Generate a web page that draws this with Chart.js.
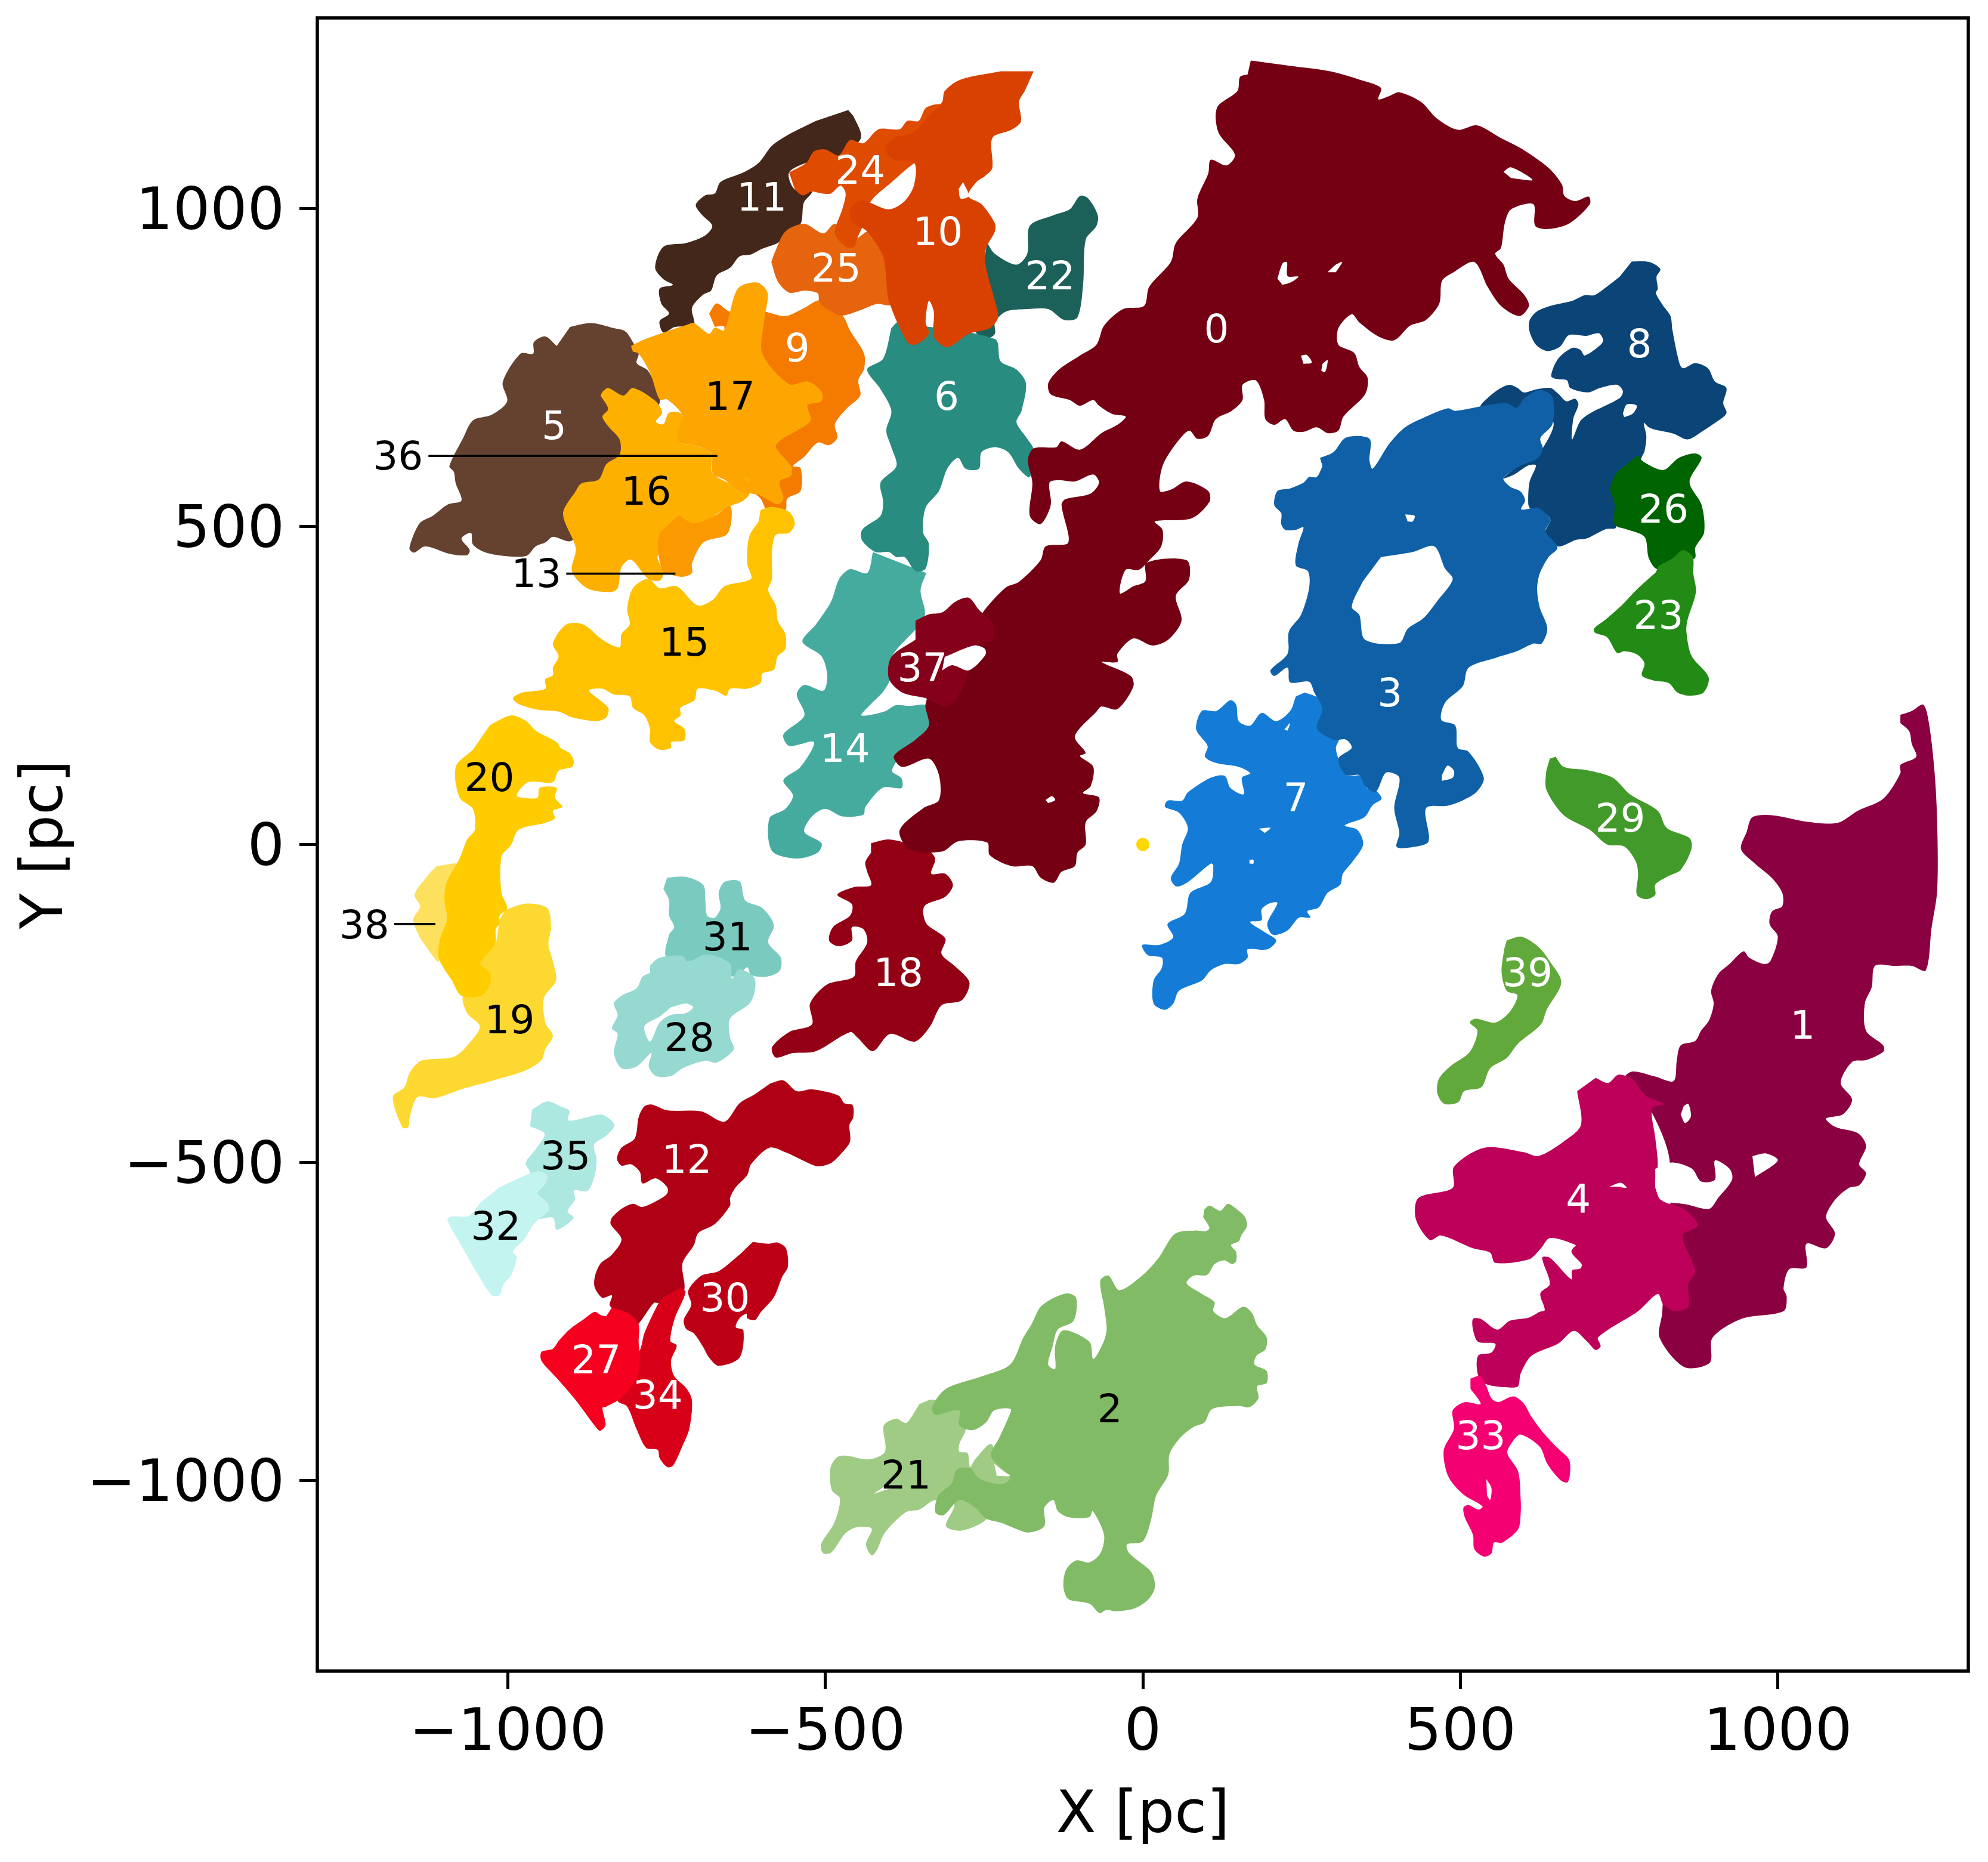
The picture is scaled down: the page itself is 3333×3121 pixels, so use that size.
<!DOCTYPE html>
<html>
<head>
<meta charset="utf-8">
<title>Clouds</title>
<script src="https://cdn.jsdelivr.net/npm/chart.js@4"></script>
<style>
  html, body { margin: 0; padding: 0; background: #fff; }
  canvas { display: block; }
</style>
</head>
<body>
<canvas id="myChart" width="3333" height="3121"></canvas>
<script>
// cloud outlines, [x, y] in pc
const cloud0 = [[170,1233],[237,1224],[295,1216],[341,1203],[375,1190],[371,1172],[388,1177],[404,1183],[438,1168],[463,1142],[496,1124],[526,1131],[564,1111],[597,1094],[639,1064],[660,1038],[664,1020],[681,1012],[702,1019],[704,1007],[672,977],[639,968],[618,973],[615,1007],[580,999],[570,977],[564,938],[555,929],[568,912],[576,890],[601,864],[608,847],[593,831],[564,847],[543,877],[522,916],[488,899],[471,886],[467,851],[446,825],[421,816],[396,793],[371,799],[341,821],[329,834],[308,812],[308,786],[333,773],[341,751],[354,734],[350,708],[316,673],[308,651],[291,647],[274,656],[253,649],[237,651],[224,669],[207,660],[193,669],[191,699],[178,730],[157,723],[157,699],[140,682],[115,669],[103,643],[86,638],[73,651],[52,630],[31,595],[27,556],[44,558],[69,571],[103,556],[105,539],[77,513],[19,508],[31,495],[29,469],[10,447],[-6,432],[-27,432],[-36,395],[-15,406],[4,414],[6,443],[69,447],[73,417],[52,391],[61,352],[40,322],[15,313],[-15,324],[-40,300],[-40,287],[-65,287],[-19,265],[-15,248],[-40,213],[-65,217],[-73,209],[-107,170],[-90,144],[-99,139],[-78,122],[-82,92],[-94,81],[-69,74],[-73,52],[-90,35],[-90,0],[-103,-13],[-107,-34],[-128,-43],[-140,-60],[-161,-52],[-174,-34],[-207,-34],[-241,-17],[-245,3],[-291,5],[-316,-11],[-367,-8],[-383,22],[-346,57],[-321,70],[-321,109],[-337,135],[-379,122],[-392,139],[-358,165],[-337,187],[-342,222],[-316,274],[-249,369],[-216,404],[-195,413],[-161,447],[-153,469],[-119,473],[-117,486],[-128,534],[-122,543],[-82,552],[-69,569],[-78,582],[-107,571],[-132,573],[-147,569],[-145,534],[-161,504],[-178,517],[-174,569],[-181,604],[-172,623],[-136,625],[-128,634],[-99,621],[-65,647],[-40,660],[-27,673],[-48,677],[-69,690],[-78,699],[-99,690],[-115,699],[-145,708],[-149,725],[-132,747],[-99,769],[-73,786],[-61,816],[-31,842],[2,847],[10,877],[44,916],[52,946],[86,986],[86,1016],[103,1055],[107,1077],[132,1068],[145,1085],[119,1120],[117,1159],[149,1185],[153,1207],[165,1211]];
const cloud1 = [[1193,204],[1211,210],[1229,220],[1238,191],[1247,112],[1251,33],[1251,-72],[1242,-132],[1233,-198],[1211,-191],[1184,-191],[1153,-191],[1148,-224],[1137,-250],[1139,-293],[1166,-316],[1166,-326],[1139,-339],[1117,-342],[1099,-375],[1117,-401],[1103,-424],[1076,-431],[1090,-444],[1126,-454],[1139,-474],[1128,-503],[1139,-517],[1128,-536],[1112,-540],[1090,-559],[1076,-586],[1090,-612],[1076,-635],[1045,-628],[1045,-665],[1018,-668],[1009,-698],[1014,-711],[1009,-734],[943,-746],[897,-776],[893,-815],[853,-822],[814,-776],[818,-736],[830,-500],[790,-400],[758,-369],[771,-357],[807,-365],[836,-372],[841,-339],[847,-316],[870,-309],[879,-293],[892,-276],[899,-250],[895,-230],[906,-204],[924,-188],[946,-168],[955,-178],[978,-188],[988,-184],[1000,-145],[987,-125],[991,-105],[1007,-97],[1007,-76],[991,-53],[964,-30],[942,-7],[951,20],[960,43],[991,46],[1045,36],[1094,34],[1126,53],[1166,72],[1193,112],[1193,125],[1218,138],[1211,158],[1207,178],[1193,191]];
const cloud2 = [[97,-574],[105,-568],[122,-576],[134,-565],[151,-576],[161,-586],[164,-600],[155,-615],[151,-624],[139,-630],[147,-641],[147,-655],[141,-660],[128,-654],[113,-660],[101,-677],[80,-678],[69,-690],[92,-706],[113,-720],[111,-734],[130,-745],[158,-727],[172,-737],[180,-756],[195,-775],[193,-794],[179,-804],[176,-818],[195,-828],[195,-847],[180,-852],[182,-871],[168,-885],[151,-883],[109,-888],[97,-909],[80,-916],[59,-933],[42,-959],[40,-991],[21,-1024],[13,-1062],[0,-1096],[-25,-1101],[-21,-1115],[13,-1144],[19,-1168],[9,-1187],[-12,-1201],[-42,-1206],[-58,-1204],[-68,-1209],[-84,-1194],[-117,-1187],[-125,-1168],[-121,-1141],[-105,-1126],[-84,-1129],[-67,-1115],[-61,-1086],[-79,-1048],[-84,-1058],[-117,-1058],[-134,-1048],[-141,-1031],[-155,-1043],[-155,-1072],[-180,-1082],[-205,-1074],[-222,-1067],[-247,-1060],[-264,-1043],[-289,-1031],[-314,-1055],[-327,-1050],[-322,-1024],[-301,-1005],[-293,-983],[-272,-981],[-260,-995],[-243,-1003],[-218,-1005],[-209,-995],[-239,-962],[-226,-933],[-213,-904],[-208,-888],[-234,-890],[-247,-909],[-268,-921],[-289,-914],[-289,-890],[-327,-897],[-332,-885],[-310,-856],[-255,-837],[-209,-818],[-188,-775],[-176,-756],[-159,-725],[-121,-706],[-105,-713],[-109,-749],[-134,-763],[-142,-789],[-149,-818],[-138,-825],[-138,-789],[-125,-764],[-84,-782],[-78,-809],[-63,-785],[-57,-763],[-61,-727],[-67,-686],[-54,-678],[-37,-701],[0,-677],[25,-650],[51,-612],[84,-607],[99,-608],[105,-603],[95,-586]];
const cloud3 = [[279,608],[300,617],[320,640],[357,638],[357,604],[362,591],[388,630],[413,656],[446,673],[480,686],[492,682],[538,690],[548,692],[573,694],[589,687],[600,701],[625,715],[645,704],[645,661],[626,639],[630,622],[620,606],[595,596],[568,576],[578,563],[595,555],[602,541],[596,527],[623,529],[642,510],[634,493],[653,467],[639,452],[625,426],[621,402],[625,373],[637,340],[628,316],[615,316],[589,304],[557,294],[513,278],[504,249],[476,223],[470,196],[492,187],[496,152],[513,146],[537,105],[526,83],[505,70],[480,61],[446,57],[450,5],[425,-4],[400,-4],[404,18],[396,57],[404,105],[383,113],[367,83],[350,92],[341,109],[320,109],[308,135],[329,152],[320,165],[300,165],[274,183],[283,213],[270,239],[262,256],[232,255],[228,278],[207,265],[201,274],[228,300],[230,335],[249,361],[262,404],[260,430],[241,439],[245,473],[253,499],[241,495],[224,495],[218,504],[218,521],[207,534],[212,556],[232,560],[253,569],[262,578],[274,578],[283,595]];
const cloud4 = [[713,-367],[733,-375],[749,-362],[771,-369],[792,-395],[820,-408],[802,-415],[807,-461],[811,-503],[807,-533],[816,-559],[852,-573],[874,-599],[850,-615],[870,-671],[859,-691],[859,-727],[838,-734],[820,-724],[811,-707],[780,-734],[717,-775],[721,-789],[713,-795],[700,-782],[679,-765],[654,-785],[612,-804],[595,-832],[591,-852],[578,-854],[541,-849],[528,-835],[528,-804],[549,-799],[555,-785],[528,-782],[520,-763],[520,-746],[532,-746],[558,-763],[578,-749],[608,-744],[625,-735],[633,-732],[626,-706],[641,-691],[629,-650],[641,-650],[675,-684],[676,-670],[689,-667],[691,-660],[675,-641],[683,-631],[696,-641],[677,-628],[641,-619],[627,-635],[609,-652],[555,-658],[547,-642],[520,-635],[470,-615],[452,-622],[430,-589],[434,-556],[488,-540],[490,-507],[538,-477],[600,-484],[623,-490],[663,-467],[690,-441],[684,-388]];
const cloud5 = [[-902,814],[-869,820],[-833,812],[-815,807],[-803,790],[-794,772],[-797,757],[-779,745],[-761,706],[-761,694],[-815,574],[-899,478],[-929,484],[-941,475],[-956,469],[-971,454],[-1007,454],[-1037,460],[-1055,472],[-1058,490],[-1073,481],[-1060,463],[-1064,455],[-1091,457],[-1130,469],[-1148,459],[-1155,466],[-1139,505],[-1118,517],[-1094,535],[-1073,541],[-1082,568],[-1085,586],[-1092,595],[-1070,640],[-1055,667],[-1025,676],[-1001,697],[-1008,727],[-980,772],[-960,772],[-959,790],[-941,799],[-923,784]];
const cloud6 = [[-388,821],[-233,795],[-224,760],[-199,747],[-184,725],[-191,682],[-199,664],[-182,638],[-172,621],[-178,578],[-195,591],[-212,617],[-233,625],[-254,617],[-258,591],[-279,591],[-291,608],[-308,591],[-321,556],[-342,530],[-346,491],[-337,473],[-342,434],[-358,430],[-375,452],[-388,452],[-400,460],[-421,460],[-442,478],[-442,495],[-413,517],[-409,539],[-413,569],[-388,595],[-396,625],[-404,651],[-396,682],[-413,716],[-434,747],[-409,764],[-396,812]];
const cloud7 = [[255,239],[277,230],[291,207],[277,191],[286,174],[309,168],[304,151],[313,122],[322,108],[344,108],[353,89],[367,85],[376,72],[362,62],[349,43],[318,30],[338,23],[347,0],[331,-26],[315,-46],[311,-63],[291,-76],[277,-99],[259,-105],[264,-115],[246,-115],[228,-135],[205,-142],[196,-125],[212,-92],[201,-92],[187,-102],[187,-119],[169,-122],[192,-138],[210,-151],[196,-165],[165,-165],[165,-178],[151,-188],[129,-188],[107,-198],[93,-214],[57,-230],[48,-250],[35,-260],[17,-250],[17,-214],[30,-194],[30,-178],[8,-174],[-1,-158],[26,-158],[48,-146],[39,-125],[66,-109],[75,-76],[107,-59],[111,-33],[107,-30],[71,-59],[53,-66],[44,-53],[57,-30],[62,0],[71,26],[57,50],[35,59],[39,69],[62,69],[71,82],[107,105],[129,108],[138,89],[159,79],[156,105],[169,112],[151,122],[116,128],[98,138],[102,155],[84,181],[93,210],[116,210],[138,227],[147,220],[151,194],[169,187],[187,207],[210,194],[232,210],[241,233]];
const cloud8 = [[770,917],[798,916],[815,905],[809,893],[811,874],[808,867],[819,848],[831,831],[834,809],[845,757],[851,749],[870,757],[890,749],[901,728],[919,718],[914,694],[919,678],[898,661],[880,649],[858,637],[836,646],[808,652],[797,656],[789,663],[793,642],[790,618],[786,610],[742,512],[745,498],[729,496],[698,481],[682,479],[654,469],[634,491],[642,510],[632,522],[610,529],[607,536],[609,570],[619,596],[607,596],[585,582],[568,576],[595,599],[626,618],[645,666],[548,666],[531,687],[545,704],[564,718],[578,723],[590,718],[600,711],[620,716],[642,718],[654,709],[667,697],[681,701],[686,692],[678,670],[676,637],[689,666],[704,678],[751,702],[756,713],[747,723],[720,718],[701,711],[673,718],[668,730],[651,732],[643,737],[654,764],[676,781],[689,778],[696,769],[720,785],[725,793],[718,804],[698,800],[671,801],[657,783],[637,776],[620,785],[609,807],[609,824],[620,838],[642,847],[676,855],[696,864],[711,864],[729,876],[751,893]];
const cloud9 = [[-683,835],[-671,851],[-650,838],[-596,838],[-563,831],[-533,844],[-509,856],[-491,838],[-473,832],[-461,808],[-439,772],[-439,748],[-448,730],[-445,706],[-467,685],[-485,661],[-481,640],[-494,628],[-512,632],[-533,610],[-551,595],[-539,592],[-539,556],[-560,544],[-563,526],[-590,523],[-602,544],[-635,574],[-665,694],[-659,814],[-674,814]];
const cloud10 = [[-172,1216],[-186,1185],[-195,1168],[-192,1137],[-207,1124],[-237,1111],[-237,1064],[-249,1051],[-262,1042],[-275,1020],[-254,1007],[-233,977],[-233,964],[-245,942],[-249,925],[-245,899],[-233,855],[-228,829],[-241,812],[-274,803],[-308,782],[-329,799],[-329,838],[-337,855],[-342,821],[-337,803],[-358,786],[-371,790],[-400,855],[-404,890],[-409,925],[-434,964],[-459,981],[-459,1003],[-442,1013],[-400,999],[-375,1012],[-360,1038],[-360,1072],[-392,1077],[-406,1094],[-392,1111],[-362,1120],[-337,1146],[-316,1168],[-312,1185],[-287,1203],[-224,1216]];
const cloud11 = [[-464,1155],[-455,1144],[-444,1111],[-476,1084],[-521,1075],[-557,1057],[-548,1030],[-521,1027],[-534,1009],[-539,976],[-563,958],[-575,946],[-599,937],[-617,928],[-635,925],[-650,907],[-671,895],[-680,871],[-692,865],[-710,844],[-707,817],[-737,814],[-755,805],[-761,823],[-746,835],[-758,850],[-761,874],[-740,880],[-755,889],[-768,907],[-755,940],[-719,946],[-689,958],[-678,973],[-695,991],[-704,1006],[-689,1021],[-674,1024],[-665,1042],[-629,1057],[-605,1072],[-584,1099],[-557,1117],[-515,1138]];
const cloud12 = [[-587,-376],[-566,-371],[-545,-388],[-521,-385],[-479,-395],[-470,-407],[-457,-410],[-456,-429],[-462,-441],[-461,-467],[-473,-484],[-491,-501],[-512,-506],[-533,-498],[-563,-484],[-588,-477],[-617,-503],[-623,-520],[-641,-539],[-650,-556],[-650,-568],[-674,-597],[-700,-611],[-707,-630],[-725,-659],[-722,-700],[-737,-707],[-761,-721],[-770,-721],[-791,-750],[-797,-755],[-839,-726],[-836,-709],[-851,-713],[-863,-697],[-863,-680],[-854,-659],[-836,-645],[-821,-621],[-838,-597],[-836,-587],[-821,-573],[-803,-565],[-788,-570],[-761,-558],[-749,-549],[-749,-539],[-767,-525],[-788,-533],[-792,-515],[-806,-503],[-821,-505],[-828,-494],[-821,-477],[-800,-462],[-794,-429],[-785,-412],[-773,-409],[-749,-418],[-695,-420],[-659,-436],[-635,-407],[-611,-393]];
const cloud13 = [[-731,518],[-707,505],[-674,517],[-650,532],[-648,508],[-656,487],[-692,475],[-710,442],[-710,427],[-725,421],[-743,424],[-755,427],[-764,466],[-761,490]];
const cloud14 = [[-425,460],[-434,427],[-461,433],[-478,418],[-491,382],[-515,346],[-536,319],[-506,296],[-497,266],[-503,242],[-533,251],[-545,236],[-533,203],[-566,173],[-557,155],[-518,161],[-539,122],[-566,101],[-551,77],[-563,56],[-588,41],[-584,-10],[-545,-22],[-512,-13],[-506,2],[-533,20],[-521,44],[-500,56],[-473,44],[-440,47],[-437,59],[-410,89],[-380,89],[-380,104],[-395,116],[-371,152],[-329,188],[-338,218],[-368,218],[-389,219],[-407,209],[-443,203],[-428,221],[-410,239],[-398,260],[-395,296],[-344,358],[-350,400],[-341,427]];
const cloud15 = [[-602,526],[-584,531],[-557,523],[-548,505],[-557,490],[-578,487],[-584,460],[-584,418],[-590,400],[-578,376],[-575,352],[-563,331],[-563,307],[-575,296],[-581,275],[-599,269],[-602,254],[-623,245],[-650,245],[-656,234],[-674,242],[-701,245],[-706,227],[-728,215],[-728,203],[-738,194],[-722,182],[-722,164],[-743,161],[-743,152],[-761,149],[-776,161],[-776,182],[-785,203],[-803,215],[-808,233],[-833,236],[-851,245],[-872,242],[-842,215],[-845,200],[-860,194],[-899,200],[-920,209],[-953,212],[-983,221],[-992,230],[-977,239],[-941,245],[-941,260],[-929,266],[-929,278],[-920,296],[-929,316],[-908,346],[-881,346],[-851,322],[-824,310],[-821,331],[-808,346],[-812,370],[-803,403],[-779,418],[-761,403],[-734,406],[-701,376],[-677,385],[-659,406],[-617,418],[-623,442],[-620,484],[-605,508]];
const cloud16 = [[-851,712],[-842,718],[-818,706],[-803,718],[-767,697],[-757,679],[-767,665],[-755,661],[-746,679],[-725,676],[-731,634],[-707,628],[-680,616],[-677,583],[-620,553],[-629,541],[-650,532],[-674,517],[-701,490],[-740,470],[-764,454],[-755,427],[-761,415],[-779,418],[-806,448],[-821,436],[-827,403],[-839,397],[-875,403],[-899,430],[-893,466],[-913,520],[-893,556],[-884,568],[-857,574],[-845,598],[-824,613],[-824,637],[-842,658],[-851,673],[-842,685],[-854,706]];
const cloud17 = [[-806,784],[-788,793],[-755,805],[-719,817],[-707,820],[-683,803],[-674,813],[-659,809],[-638,874],[-608,884],[-591,868],[-596,826],[-599,772],[-557,724],[-527,728],[-506,712],[-506,697],[-528,691],[-523,667],[-548,649],[-569,637],[-578,625],[-554,595],[-554,580],[-572,571],[-566,544],[-575,535],[-599,547],[-605,550],[-635,556],[-659,574],[-677,583],[-680,616],[-707,628],[-732,634],[-728,664],[-725,676],[-749,700],[-761,700],[-776,742],[-794,772],[-803,775]];
const cloud18 = [[-428,2],[-401,8],[-371,2],[-341,-7],[-327,-22],[-333,-46],[-311,-46],[-299,-64],[-311,-82],[-344,-97],[-341,-124],[-311,-148],[-317,-172],[-294,-193],[-273,-217],[-285,-245],[-317,-253],[-335,-286],[-359,-310],[-398,-298],[-425,-325],[-449,-304],[-461,-295],[-515,-325],[-551,-328],[-578,-335],[-584,-319],[-557,-295],[-521,-283],[-524,-250],[-497,-220],[-455,-208],[-452,-184],[-434,-154],[-440,-133],[-458,-130],[-458,-151],[-479,-160],[-494,-151],[-488,-130],[-461,-112],[-458,-94],[-481,-79],[-455,-67],[-428,-64],[-434,-43],[-437,-28],[-428,-13]];
const cloud19 = [[-1004,-103],[-971,-93],[-938,-100],[-932,-130],[-936,-157],[-929,-184],[-924,-214],[-943,-241],[-941,-280],[-929,-301],[-941,-322],[-947,-339],[-971,-355],[-1019,-370],[-1073,-385],[-1115,-399],[-1142,-397],[-1154,-427],[-1157,-445],[-1166,-445],[-1181,-397],[-1163,-382],[-1154,-358],[-1136,-340],[-1085,-334],[-1061,-313],[-1044,-286],[-1064,-265],[-1070,-238],[-1028,-220],[-1043,-187],[-1020,-157],[-1016,-139],[-1013,-118]];
const cloud20 = [[-1028,188],[-995,203],[-971,194],[-956,179],[-923,161],[-917,152],[-902,143],[-896,131],[-899,122],[-920,116],[-929,98],[-968,98],[-986,77],[-971,73],[-953,74],[-950,89],[-923,89],[-926,74],[-914,59],[-929,53],[-926,41],[-941,34],[-983,23],[-995,-1],[-1010,-19],[-1010,-76],[-1001,-100],[-1013,-112],[-1013,-124],[-1019,-133],[-1020,-157],[-1043,-187],[-1028,-202],[-1028,-220],[-1043,-238],[-1073,-238],[-1088,-214],[-1109,-178],[-1106,-145],[-1096,-118],[-1100,-88],[-1097,-61],[-1076,-22],[-1064,8],[-1052,23],[-1055,56],[-1076,74],[-1082,122],[-1055,149]];
const cloud21 = [[-352,-880],[-331,-873],[-289,-885],[-279,-919],[-289,-943],[-289,-955],[-276,-957],[-272,-979],[-264,-967],[-239,-943],[-226,-976],[-205,-995],[-209,-1010],[-247,-1062],[-285,-1079],[-310,-1072],[-297,-1038],[-327,-1031],[-352,-1046],[-373,-1050],[-406,-1082],[-419,-1110],[-427,-1118],[-436,-1101],[-427,-1076],[-452,-1074],[-469,-1084],[-490,-1113],[-503,-1115],[-507,-1101],[-486,-1067],[-477,-1029],[-490,-1015],[-492,-981],[-482,-964],[-469,-961],[-431,-967],[-406,-955],[-408,-914],[-389,-903],[-373,-910],[-364,-900]];
const cloud22 = [[-245,946],[-233,929],[-199,912],[-182,929],[-178,973],[-140,990],[-115,999],[-99,1020],[-86,1016],[-71,990],[-73,973],[-90,951],[-94,881],[-103,829],[-124,825],[-149,842],[-182,842],[-216,838],[-233,821],[-233,803],[-249,795],[-266,812],[-249,925]];
const cloud23 = [[812,438],[834,450],[851,463],[866,452],[867,426],[871,397],[858,354],[856,335],[864,297],[891,263],[883,239],[861,234],[842,239],[828,254],[804,258],[786,266],[790,285],[778,299],[758,304],[747,301],[731,326],[712,333],[711,340],[729,354],[754,376],[779,402],[808,428]];
const cloud24 = [[-557,1057],[-530,1072],[-518,1090],[-500,1093],[-479,1084],[-461,1108],[-440,1103],[-416,1125],[-383,1125],[-371,1138],[-353,1138],[-341,1159],[-314,1162],[-299,1102],[-359,1072],[-395,1042],[-428,1012],[-437,982],[-449,955],[-455,940],[-467,940],[-485,961],[-473,1000],[-468,1024],[-476,1036],[-491,1024],[-506,1024],[-521,1027],[-536,1021],[-548,1030]];
const cloud25 = [[-581,928],[-563,964],[-533,976],[-503,961],[-485,976],[-455,952],[-431,964],[-404,922],[-395,850],[-419,850],[-443,841],[-473,832],[-491,838],[-509,853],[-512,867],[-533,871],[-557,868],[-575,886],[-585,916]];
const cloud26 = [[779,612],[790,601],[820,589],[844,608],[870,615],[880,608],[861,570],[880,534],[884,491],[870,467],[869,450],[811,433],[797,450],[790,484],[761,496],[743,503],[743,536],[736,560],[745,584]];
const cloud27 = [[-836,-728],[-809,-738],[-794,-755],[-794,-783],[-792,-807],[-797,-839],[-821,-870],[-845,-884],[-851,-886],[-846,-913],[-854,-922],[-860,-918],[-893,-874],[-923,-839],[-947,-812],[-947,-798],[-929,-793],[-920,-781],[-902,-762],[-881,-747],[-863,-735],[-854,-740],[-845,-742]];
const cloud28 = [[-776,-190],[-761,-178],[-725,-175],[-716,-184],[-686,-173],[-650,-187],[-647,-211],[-635,-196],[-611,-211],[-617,-247],[-650,-274],[-650,-304],[-644,-322],[-671,-343],[-689,-340],[-725,-352],[-743,-364],[-767,-364],[-778,-349],[-774,-328],[-797,-349],[-821,-352],[-833,-328],[-827,-298],[-836,-289],[-827,-268],[-833,-250],[-821,-238],[-797,-226],[-788,-208],[-776,-202]];
const cloud29 = [[650,138],[663,122],[699,117],[740,105],[767,79],[811,53],[825,26],[861,10],[864,-7],[847,-40],[829,-49],[807,-63],[807,-79],[793,-86],[778,-79],[780,-46],[776,-26],[758,-3],[731,0],[704,23],[663,46],[636,85],[635,112],[641,135]];
const cloud30 = [[-614,-625],[-590,-628],[-575,-626],[-562,-635],[-559,-664],[-568,-680],[-581,-712],[-602,-736],[-611,-748],[-623,-745],[-624,-738],[-635,-745],[-641,-759],[-629,-764],[-635,-807],[-668,-820],[-683,-807],[-692,-791],[-707,-769],[-719,-762],[-723,-748],[-711,-724],[-716,-702],[-695,-678],[-668,-671],[-635,-645]];
const cloud31 = [[-749,-52],[-719,-51],[-692,-64],[-689,-88],[-686,-112],[-674,-115],[-665,-100],[-668,-76],[-659,-59],[-635,-58],[-626,-88],[-599,-100],[-581,-127],[-590,-154],[-570,-178],[-572,-199],[-593,-208],[-617,-205],[-623,-193],[-641,-208],[-749,-178],[-746,-142],[-738,-130],[-746,-112],[-746,-88],[-755,-70]];
const cloud32 = [[-1013,-539],[-983,-525],[-953,-514],[-938,-520],[-941,-534],[-953,-549],[-938,-563],[-935,-575],[-959,-597],[-974,-621],[-992,-640],[-986,-649],[-995,-678],[-1007,-692],[-1013,-709],[-1025,-709],[-1046,-678],[-1079,-621],[-1088,-606],[-1095,-589],[-1088,-585],[-1061,-584],[-1043,-563]];
const cloud33 = [[516,-840],[532,-836],[541,-852],[549,-871],[560,-877],[583,-868],[599,-878],[612,-900],[633,-928],[654,-950],[671,-967],[673,-986],[669,-1003],[658,-1000],[637,-974],[625,-947],[595,-928],[583,-938],[574,-957],[591,-986],[595,-1029],[595,-1053],[591,-1077],[566,-1098],[553,-1098],[549,-1115],[537,-1120],[522,-1108],[520,-1086],[507,-1058],[505,-1043],[513,-1039],[528,-1046],[535,-1041],[507,-1024],[488,-1005],[478,-986],[474,-952],[490,-919],[488,-890],[507,-877],[532,-880],[516,-856]];
const cloud34 = [[-728,-697],[-720,-704],[-737,-745],[-744,-781],[-734,-788],[-743,-812],[-738,-836],[-719,-855],[-710,-874],[-714,-918],[-725,-946],[-740,-977],[-749,-979],[-761,-965],[-764,-952],[-782,-949],[-797,-920],[-812,-884],[-827,-874],[-791,-793],[-785,-769],[-764,-724],[-755,-712]];
const cloud35 = [[-962,-417],[-938,-404],[-917,-412],[-903,-419],[-905,-434],[-875,-429],[-851,-425],[-832,-441],[-845,-458],[-864,-472],[-860,-498],[-866,-530],[-875,-545],[-896,-544],[-894,-558],[-906,-577],[-896,-587],[-923,-606],[-929,-587],[-953,-587],[-965,-515],[-972,-501],[-956,-479],[-942,-455],[-965,-443]];
const cloud36 = [[-629,579],[-618,575],[-619,570],[-628,575]];
const cloud37 = [[-358,352],[-337,362],[-316,365],[-295,382],[-274,388],[-258,369],[-237,348],[-237,322],[-262,313],[-283,248],[-308,217],[-342,230],[-379,239],[-400,261],[-396,295],[-358,322]];
const cloud38 = [[-1112,-34],[-1079,-31],[-1097,-61],[-1100,-88],[-1096,-118],[-1106,-145],[-1109,-184],[-1127,-163],[-1139,-145],[-1149,-118],[-1138,-97],[-1147,-79],[-1124,-46]];
const cloud39 = [[573,-151],[596,-145],[623,-161],[641,-184],[659,-217],[636,-260],[627,-283],[591,-313],[573,-336],[547,-352],[533,-382],[506,-388],[497,-405],[475,-408],[464,-392],[466,-369],[484,-349],[515,-326],[527,-293],[515,-280],[524,-274],[555,-280],[578,-263],[590,-237],[573,-230],[565,-201],[569,-165]];

const clouds = [cloud0, cloud1, cloud2, cloud3, cloud4, cloud5, cloud6, cloud7, cloud8, cloud9, cloud10, cloud11, cloud12, cloud13, cloud14, cloud15, cloud16, cloud17, cloud18, cloud19, cloud20, cloud21, cloud22, cloud23, cloud24, cloud25, cloud26, cloud27, cloud28, cloud29, cloud30, cloud31, cloud32, cloud33, cloud34, cloud35, cloud36, cloud37, cloud38, cloud39];
const cloudColors = ['#750014','#8B0041','#81BB66','#0F60A6','#BD0059','#654130','#298C80','#147CD7','#0B4477','#F57A00','#D94100','#43271A','#B00016','#FA9900','#46AB9F','#FFC200','#FDB000','#FDA500','#930015','#FDD830','#FFCC00','#9FCB85','#1C6159','#228B15','#DF4C00','#E5640D','#006400','#F5001E','#95D9D0','#429A2A','#BD0016','#7BCABF','#C4F4EF','#F50073','#D80018','#ACE7E0','#FDB000','#85001A','#FDE05E','#62A93B'];
// bottom to top
const drawOrder = [5, 11, 9, 15, 38, 19, 20, 31, 28, 35, 32, 16, 13, 17, 36, 25, 24, 22, 14, 6, 10, 18, 12, 30, 34, 27, 21, 2, 8, 7, 3, 29, 39, 26, 23, 0, 37, 1, 4, 33];

// white gaps inside the clouds
const gap0a = [[212,890],[220,914],[227,916],[228,894],[245,893],[233,884],[220,880]];
const gap0b = [[291,900],[304,912],[314,916],[304,900]];
const gap0c = [[249,769],[258,770],[266,758],[253,756]];
const gap0d = [[283,756],[291,762],[287,743],[281,745]];
const gap0e = [[-153,70],[-143,76],[-138,70],[-149,65]];
const gap0f = [[568,1058],[580,1065],[614,1045],[580,1048]];
const gap1a = [[852,-411],[859,-408],[863,-428],[854,-438],[847,-425]];
const gap1b = [[807,-510],[834,-500],[865,-510],[879,-530],[901,-527],[901,-497],[924,-510],[928,-527],[906,-556],[892,-573],[856,-566],[816,-559],[807,-540]];
const gap1c = [[960,-490],[982,-486],[1000,-497],[964,-523]];
const gap3a = [[375,452],[425,460],[459,469],[476,434],[488,417],[463,382],[442,356],[417,339],[404,317],[350,322],[341,361],[329,374],[346,413]];
const gap3b = [[413,519],[428,517],[425,508],[417,508]];
const gap3c = [[471,109],[480,124],[490,116],[488,105],[471,100]];
const gap4a = [[735,-538],[753,-532],[762,-540],[749,-538]];
const gap7a = [[223,181],[232,191],[228,179]];
const gap7b = [[183,25],[201,26],[192,18]];
const gap7c = [[168,-24],[174,-24],[174,-30],[168,-30]];
const gap8a = [[756,678],[762,692],[778,690],[772,678],[758,672]];
const gap10a = [[-283,1042],[-274,1020],[-287,1016],[-290,1031]];
const gap21a = [[-425,-1022],[-406,-1010],[-389,-1011],[-406,-1015]];
const gap21b = [[-234,-974],[-219,-986],[-209,-993],[-230,-993]];
const gap28a = [[-743,-256],[-719,-250],[-708,-256],[-719,-265],[-743,-268],[-761,-280],[-776,-310],[-785,-286],[-761,-271]];
const gap33a = [[541,-998],[549,-1012],[547,-1031],[542,-1024]];
const gap37a = [[-312,295],[-266,313],[-249,308],[-248,298],[-274,274],[-300,282],[-316,274]];
const gaps = [gap0a, gap0b, gap0c, gap0d, gap0e, gap0f, gap1a, gap1b, gap1c, gap3a, gap3b, gap3c, gap4a, gap7a, gap7b, gap7c, gap8a, gap10a, gap21a, gap21b, gap28a, gap33a, gap37a];

// cloud numbers, same order as clouds
const labelX = [116,1039,-52,389,686,-927,-309,241,782,-544,-323,-600,-718,-955,-469,-722,-782,-650,-385,-997,-1029,-373,-146,812,-445,-483,820,-861,-714,752,-658,-654,-1019,532,-764,-909,-1173,-347,-1226,606];
const labelY = [806,-289,-893,233,-562,654,700,68,782,776,959,1013,-500,421,146,313,550,700,-207,-281,100,-997,889,355,1055,901,522,-816,-309,36,-718,-150,-606,-935,-871,-495,606,273,-132,-207];
const blackLabels = [2, 13, 15, 16, 17, 19, 20, 21, 28, 31, 32, 35, 36, 38];

const leader13 = [[-908,426],[-736,426]];
const leader36 = [[-1125,611],[-670,611]];
const leader38 = [[-1179,-125],[-1114,-125]];
const sun = [[0,0]];

const tickValues = [-1000, -500, 0, 500, 1000];

function toPoints(list) {
    return list.map(p => ({x: p[0], y: p[1]}));
}
function shape(list, color) {
    return {data: toPoints(list), showLine: true, fill: 'shape', backgroundColor: color, borderWidth: 0, pointRadius: 0, tension: 0.3};
}
function leader(list) {
    return {data: toPoints(list), showLine: true, fill: false, borderColor: '#000', borderWidth: 3.5, pointRadius: 0};
}

// chart.js paints the first dataset last, so the top layer goes first
const datasets = [leader(leader13), leader(leader36), leader(leader38)];
gaps.forEach(g => datasets.push(shape(g, '#ffffff')));
datasets.push({data: toPoints(sun), pointRadius: 11, pointBackgroundColor: '#FFD700', pointBorderWidth: 0});
drawOrder.slice().reverse().forEach(i => datasets.push(shape(clouds[i], cloudColors[i])));

const cloudText = {
    id: 'cloudText',
    afterDatasetsDraw(chart) {
        const c = chart.ctx, sx = chart.scales.x, sy = chart.scales.y, a = chart.chartArea;
        c.save();
        c.font = '66px "DejaVu Sans"';
        c.textAlign = 'center';
        c.textBaseline = 'middle';
        labelX.forEach((x, i) => {
            c.fillStyle = blackLabels.includes(i) ? '#000' : '#fff';
            c.fillText(String(i), sx.getPixelForValue(x), sy.getPixelForValue(labelY[i]));
        });
        c.lineWidth = 5.5;
        c.strokeStyle = '#000';
        c.strokeRect(a.left, a.top, a.right - a.left, a.bottom - a.top);
        c.restore();
    }
};

function axisLabel(v) {
    return String(v).replace('-', '\u2212');
}
const tickFont = {family: '"DejaVu Sans"', size: 98};

const chart = new Chart(document.getElementById('myChart').getContext('2d'), {
    type: 'scatter',
    data: {datasets: datasets},
    plugins: [cloudText],
    options: {
        responsive: false,
        animation: false,
        devicePixelRatio: 1,
        events: [],
        layout: {padding: {top: 30, right: 33, left: 0, bottom: 0}},
        plugins: {legend: {display: false}, tooltip: {enabled: false}, title: {display: false}},
        scales: {
            x: {
                type: 'linear', min: -1300, max: 1300,
                afterBuildTicks: s => { s.ticks = tickValues.map(v => ({value: v})); },
                afterFit: s => { s.height = 320; s.paddingLeft = 0; s.paddingRight = 0; },
                border: {display: false},
                grid: {drawOnChartArea: false, tickLength: 30, tickWidth: 5, tickColor: '#000'},
                ticks: {color: '#000', font: tickFont, padding: 18, maxRotation: 0, autoSkip: false, callback: axisLabel},
                title: {display: true, text: 'X [pc]', color: '#000', font: tickFont, padding: {top: 0, bottom: 17}}
            },
            y: {
                type: 'linear', min: -1300, max: 1300,
                afterBuildTicks: s => { s.ticks = tickValues.map(v => ({value: v})); },
                afterFit: s => { s.width = 532; s.paddingTop = 0; s.paddingBottom = 0; },
                border: {display: false},
                grid: {drawOnChartArea: false, tickLength: 30, tickWidth: 5, tickColor: '#000'},
                ticks: {color: '#000', font: tickFont, padding: 25, labelOffset: 9, autoSkip: false, callback: axisLabel},
                title: {display: true, text: 'Y [pc]', color: '#000', font: tickFont, padding: {top: 20, bottom: 0}}
            }
        }
    }
});
</script>
</body>
</html>
